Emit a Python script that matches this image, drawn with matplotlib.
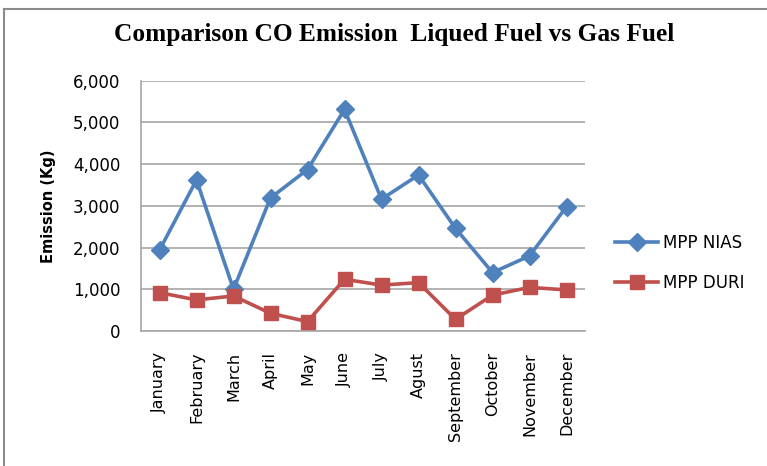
import matplotlib
matplotlib.use("Agg")
import matplotlib.pyplot as plt
from matplotlib.lines import Line2D
from matplotlib.ticker import FuncFormatter

months = ["January", "February", "March", "April", "May", "June", "July",
          "Agust", "September", "October", "November", "December"]
mpp_nias = [1940, 3620, 1000, 3190, 3870, 5310, 3160, 3740, 2460, 1400, 1800, 2980]
mpp_duri = [920, 745, 840, 425, 225, 1240, 1100, 1160, 280, 860, 1045, 985]

W, H = 767, 466
fig = plt.figure(figsize=(W / 100, H / 100), dpi=100)
ax = fig.add_axes([141 / W, 1 - 331 / H, 444 / W, (331 - 80.7) / H])

x = list(range(len(months)))
ax.plot(x, mpp_nias, color="#4F81BD", lw=2.6, marker="D", markersize=9,
        label="MPP NIAS", zorder=3)
ax.plot(x, mpp_duri, color="#C0504D", lw=2.6, marker="s", markersize=10.5,
        label="MPP DURI", zorder=3)

ax.set_xlim(-0.5, 11.5)
ax.set_ylim(0, 6000)
ax.set_yticks(range(0, 6001, 1000))
ax.yaxis.set_major_formatter(FuncFormatter(lambda v, p: f"{int(v):,}"))
ax.set_xticks(x)
ax.set_xticklabels(months, rotation=90, fontsize=11.5)
ax.tick_params(axis="y", labelsize=12, length=0, pad=15)
ax.tick_params(axis="x", length=0, pad=15)
ax.grid(axis="y", color="#A6A6A6", lw=1.2)
ax.set_axisbelow(True)
for s in ["top", "right"]:
    ax.spines[s].set_visible(False)
for s in ["left", "bottom"]:
    ax.spines[s].set_color("#A6A6A6")
    ax.spines[s].set_linewidth(1.2)

ax.set_ylabel("Emission (Kg)", fontsize=10.5, fontweight="bold", labelpad=12)

fig.text(394 / W, 1 - 34 / H, "Comparison CO Emission  Liqued Fuel vs Gas Fuel",
         ha="center", va="center", fontsize=18.3, fontweight="bold",
         family="Liberation Serif")

ax.legend(loc="center left", bbox_to_anchor=(600 / W, 1 - 263 / H),
          bbox_transform=fig.transFigure, frameon=False, fontsize=12,
          handlelength=2.6, labelspacing=1.3, handletextpad=0.3)

# chart border
fig.add_artist(Line2D([4 / W, 4 / W], [0, 1 - 9 / H], transform=fig.transFigure,
                      color="#8C8C8C", lw=1.5))
fig.add_artist(Line2D([4 / W, 1], [1 - 9 / H, 1 - 9 / H], transform=fig.transFigure,
                      color="#8C8C8C", lw=1.5))

fig.savefig("out.png", dpi=100)
